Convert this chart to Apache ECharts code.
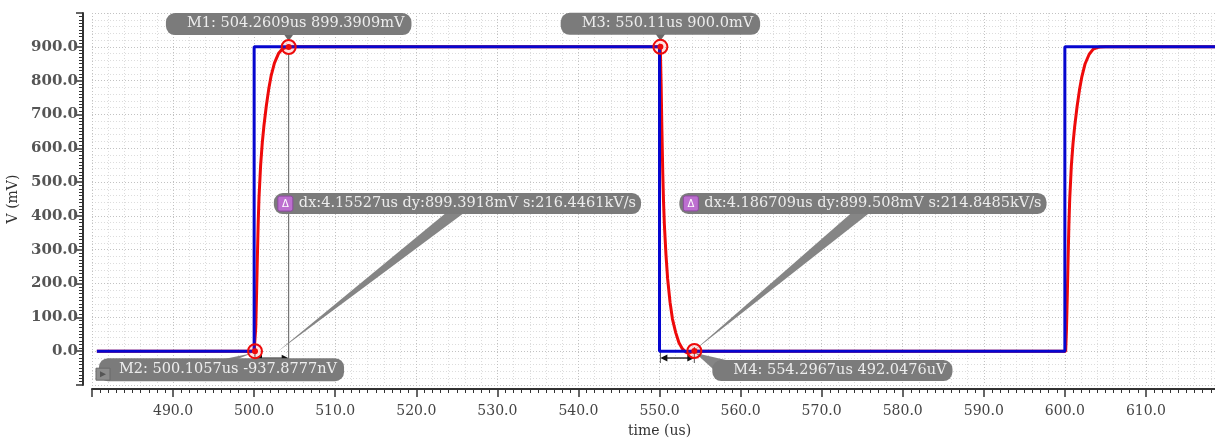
<!DOCTYPE html>
<html><head><meta charset="utf-8">
<script src="https://cdn.jsdelivr.net/npm/echarts@6/dist/echarts.min.js"></script>
<style>html,body{margin:0;padding:0;background:#fff}#c{width:1215px;height:439px}</style>
</head><body><div id="c"></div>
<script>
// ---------- data ----------
const xTicks = { min: 480, max: 620, step: 10 };
const yTicks = { min: -100, max: 1000, step: 100 };

const blueTime = [480.6, 500.0, 500.0, 550.0, 550.0, 600.0, 600.0, 620.0];
const blueVolt = [0, 0, 900, 900, 0, 0, 900, 900];

const redTime = [480.6, 500.0, 500.1, 500.2, 500.3, 500.4, 500.5, 500.6, 500.8, 501.0, 501.2, 501.5, 501.8, 502.1, 502.5, 503.0, 503.5, 504.0, 504.26, 505.0, 550.1,
  550.11, 550.2, 550.3, 550.4, 550.5, 550.6, 550.8, 551.0, 551.3, 551.6, 552.0, 552.4, 552.8, 553.2, 553.5, 553.9, 554.3, 555.0, 600.1,
  600.2, 600.3, 600.4, 600.5, 600.6, 600.8, 601.0, 601.2, 601.5, 601.8, 602.1, 602.5, 603.0, 603.5, 604.0, 604.3, 605.0, 620.0];
const redVolt = [0, 0, 0, 70, 170, 280, 380, 455, 550, 615, 665, 725, 775, 815, 852, 880, 894, 898.5, 899.4, 900, 900,
  900, 790, 650, 530, 440, 375, 285, 215, 145, 95, 55, 25, 8, -2, -6, -3, 0.5, 0, 0,
  65, 165, 275, 375, 450, 548, 612, 662, 722, 772, 812, 850, 878, 893, 898, 899.5, 900, 900];

const markerNames = ['M1', 'M2', 'M3', 'M4'];
const markerTime = [504.2609, 500.1057, 550.11, 554.2967];
const markerVolt = [899.3909, -0.0009378777, 900.0, 0.4920476];
const markerText = ['M1: 504.2609us 899.3909mV', 'M2: 500.1057us -937.8777nV', 'M3: 550.11us 900.0mV', 'M4: 554.2967us 492.0476uV'];

const deltaFrom = [1, 2];
const deltaTo = [0, 3];
const deltaText = ['dx:4.15527us dy:899.3918mV s:216.4461kV/s', 'dx:4.186709us dy:899.508mV s:214.8485kV/s'];

// ---------- styles ----------
const SERIF = '"DejaVu Serif", serif';
const annFont = '14.5px ' + SERIF;
const BOX = '#7b7b7b';
const BOXTXT = '#ededed';
const WEDGE = '#858585';
const RED = '#ee0a0a';
const BLUE = '#0606cf';
const labelPlace = { M1: 'above', M2: 'belowLeft', M3: 'above', M4: 'belowRight' };
const deltaApexDx = [5, 15];

function fmt(v) { return v.toFixed(1); }

function renderMarker(params, api) {
  const i = api.value(2);
  const p = api.coord([api.value(0), api.value(1)]);
  const place = labelPlace[markerNames[i]];
  const ch = [];
  if (place === 'above') {
    ch.push({ type: 'polygon', shape: { points: [[p[0] - 5, p[1] - 13], [p[0] + 5, p[1] - 13], [p[0], p[1] - 6]] }, style: { fill: '#6a6a6a' } });
    ch.push({ type: 'text', x: p[0], y: p[1] - 12, style: { text: markerText[i], align: 'center', verticalAlign: 'bottom', font: annFont, fill: BOXTXT, backgroundColor: BOX, borderRadius: 9, padding: [3, 7, 4, 21] } });
  } else if (place === 'belowLeft') {
    const L = p[0] - 156, T = p[1] + 7;
    ch.push({ type: 'polygon', shape: { points: [[L + 124, T + 1], [L + 138, T + 1], [p[0] - 3, p[1] + 2]] }, style: { fill: WEDGE } });
    ch.push({ type: 'text', x: L, y: T, style: { text: markerText[i], align: 'left', verticalAlign: 'top', font: annFont, fill: BOXTXT, backgroundColor: BOX, borderRadius: 9, padding: [4, 7, 4, 20] } });
    ch.push({ type: 'rect', shape: { x: L - 3, y: T + 10, width: 14, height: 12 }, style: { fill: '#8c8c8c', stroke: '#6a6a6a', lineWidth: 1 } });
    ch.push({ type: 'polygon', shape: { points: [[L + 1, T + 13], [L + 1, T + 19], [L + 7, T + 16]] }, style: { fill: '#555' } });
  } else {
    const L = p[0] + 18, T = p[1] + 9;
    ch.push({ type: 'polygon', shape: { points: [[p[0] + 1, p[1] + 2], [L + 4, T + 12], [L + 18, T + 1]] }, style: { fill: WEDGE } });
    ch.push({ type: 'text', x: L, y: T, style: { text: markerText[i], align: 'left', verticalAlign: 'top', font: annFont, fill: BOXTXT, backgroundColor: BOX, borderRadius: 9, padding: [3, 6, 3, 21] } });
  }
  ch.push({ type: 'circle', shape: { cx: p[0], cy: p[1], r: 7 }, style: { fill: 'rgba(255,60,60,0.15)', stroke: RED, lineWidth: 2 } });
  ch.push({ type: 'circle', shape: { cx: p[0], cy: p[1], r: 3 }, style: { fill: RED } });
  return { type: 'group', children: ch };
}

function deltaGeom(api) {
  const k = api.value(2);
  const a = api.coord([markerTime[deltaFrom[k]], markerVolt[deltaFrom[k]]]);
  const b = api.coord([markerTime[deltaTo[k]], markerVolt[deltaTo[k]]]);
  return { k, a, b, arrowY: Math.max(a[1], b[1]) + 7 };
}

function renderDeltaLines(params, api) {
  const g = deltaGeom(api);
  const ch = [];
  const yb = g.arrowY + 5;
  [g.a, g.b].forEach(p => {
    const top = p[1] < g.arrowY - 20 ? p[1] + 7 : g.arrowY - 11;
    ch.push({ type: 'line', shape: { x1: p[0], y1: top, x2: p[0], y2: yb }, style: { stroke: '#5a5a5a', lineWidth: 1 } });
  });
  const xl = Math.min(g.a[0], g.b[0]), xr = Math.max(g.a[0], g.b[0]), y = g.arrowY;
  ch.push({ type: 'line', shape: { x1: xl + 4, y1: y, x2: xr - 4, y2: y }, style: { stroke: '#111', lineWidth: 1.3 } });
  ch.push({ type: 'polygon', shape: { points: [[xl, y], [xl + 7, y - 3.5], [xl + 7, y + 3.5]] }, style: { fill: '#111' } });
  ch.push({ type: 'polygon', shape: { points: [[xr, y], [xr - 7, y - 3.5], [xr - 7, y + 3.5]] }, style: { fill: '#111' } });
  return { type: 'group', children: ch };
}

function renderDeltaLabel(params, api) {
  const g = deltaGeom(api);
  const midX = (g.a[0] + g.b[0]) / 2, midY = (g.a[1] + g.b[1]) / 2;
  const L = midX + 2, T = midY - 6, H = 21;
  const apex = [midX + deltaApexDx[g.k], g.arrowY - 6];
  const ch = [];
  ch.push({ type: 'polygon', shape: { points: [[L + 172, T + H - 1], [L + 190, T + H - 1], apex] }, style: { fill: WEDGE } });
  ch.push({ type: 'text', x: L, y: T, style: { text: deltaText[g.k], align: 'left', verticalAlign: 'top', font: annFont, fill: BOXTXT, backgroundColor: BOX, borderRadius: 9, padding: [3, 5, 3, 25] } });
  ch.push({ type: 'rect', shape: { x: L + 4, y: T + 3, width: 15, height: 15, r: 2 }, style: { fill: '#bd6fd0', stroke: '#8d4aa0', lineWidth: 1 } });
  ch.push({ type: 'text', x: L + 11.5, y: T + 11, style: { text: 'Δ', align: 'center', verticalAlign: 'middle', font: '10px "DejaVu Sans"', fill: '#fff' } });
  return { type: 'group', children: ch };
}

const chart = echarts.init(document.getElementById('c'), null, { renderer: 'canvas' });
const axisLabelX = { formatter: fmt, margin: 15, fontFamily: SERIF, fontSize: 14, color: '#444', showMinLabel: false, showMaxLabel: false };
const axisLabelY = { formatter: fmt, margin: 5, fontFamily: SERIF, fontSize: 15, fontWeight: 'bold', color: '#555', showMinLabel: false, showMaxLabel: false };

chart.setOption({
  animation: false,
  backgroundColor: '#fff',
  grid: { left: 92, top: 13, width: 1135, height: 372, containLabel: false, outerBoundsMode: 'none' },
  xAxis: [{
    type: 'value', min: xTicks.min, max: xTicks.max, interval: xTicks.step, position: 'bottom', offset: 4,
    name: 'time (us)', nameLocation: 'middle', nameGap: 35,
    nameTextStyle: { fontFamily: SERIF, fontSize: 14, color: '#333' },
    axisLine: { show: true, onZero: false, lineStyle: { color: '#333', width: 2 } },
    axisTick: { show: true, length: 8, lineStyle: { color: '#333', width: 1.5 } },
    minorTick: { show: true, splitNumber: 10, length: 4, lineStyle: { color: '#333', width: 1 } },
    axisLabel: axisLabelX,
    splitLine: { show: false }, minorSplitLine: { show: false }
  }, {
    type: 'value', min: xTicks.min, max: xTicks.max, interval: xTicks.step, position: 'top',
    axisLine: { show: false }, axisTick: { show: false }, axisLabel: { show: false },
    minorTick: { show: false, splitNumber: 5 },
    splitLine: { show: true, lineStyle: { color: '#c2c2c2', width: 1, type: [1, 2] } },
    minorSplitLine: { show: true, lineStyle: { color: '#dcdcdc', width: 1, type: [1, 2] } }
  }],
  yAxis: [{
    type: 'value', min: yTicks.min, max: yTicks.max, interval: yTicks.step, position: 'left', offset: 9,
    name: 'V (mV)', nameLocation: 'middle', nameGap: 60, nameRotate: 90,
    nameTextStyle: { fontFamily: SERIF, fontSize: 14, color: '#333' },
    axisLine: { show: true, onZero: false, lineStyle: { color: '#333', width: 2 } },
    axisTick: { show: true, length: 7, lineStyle: { color: '#333', width: 1.5 } },
    minorTick: { show: true, splitNumber: 10, length: 4, lineStyle: { color: '#333', width: 1 } },
    axisLabel: axisLabelY,
    splitLine: { show: false }, minorSplitLine: { show: false }
  }, {
    type: 'value', min: yTicks.min, max: yTicks.max, interval: yTicks.step, position: 'right',
    axisLine: { show: false }, axisTick: { show: false }, axisLabel: { show: false },
    minorTick: { show: false, splitNumber: 5 },
    splitLine: { show: true, lineStyle: { color: '#c2c2c2', width: 1, type: [1, 2] } },
    minorSplitLine: { show: true, lineStyle: { color: '#dcdcdc', width: 1, type: [1, 2] } }
  }],
  series: [
    { type: 'custom', name: 'deltaLines', coordinateSystem: 'cartesian2d', z: 1, renderItem: renderDeltaLines,
      encode: { x: 0, y: 1 }, data: deltaFrom.map((f, k) => [markerTime[f], markerVolt[f], k]) },
    { type: 'line', name: 'out', data: redTime.map((t, i) => [t, redVolt[i]]), showSymbol: false, symbol: 'none',
      lineStyle: { color: RED, width: 3 }, z: 2 },
    { type: 'line', name: 'in', data: blueTime.map((t, i) => [t, blueVolt[i]]), showSymbol: false, symbol: 'none',
      lineStyle: { color: BLUE, width: 3 }, z: 3 },
    { type: 'custom', name: 'deltaLabels', coordinateSystem: 'cartesian2d', z: 4, renderItem: renderDeltaLabel,
      encode: { x: 0, y: 1 }, data: deltaFrom.map((f, k) => [markerTime[f], markerVolt[f], k]) },
    { type: 'custom', name: 'markers', coordinateSystem: 'cartesian2d', z: 5, renderItem: renderMarker,
      encode: { x: 0, y: 1 }, data: markerTime.map((t, i) => [t, markerVolt[i], i]) }
  ]
});
</script>
</body></html>
